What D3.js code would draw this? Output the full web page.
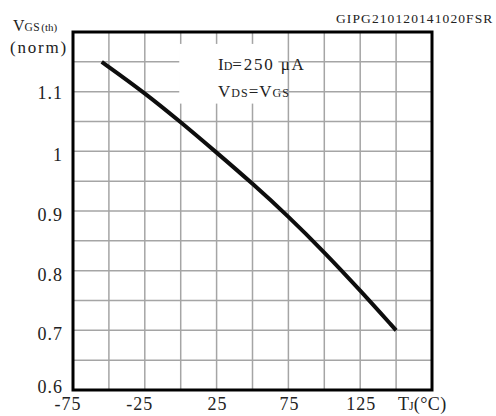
<!DOCTYPE html>
<html>
<head>
<meta charset="utf-8">
<script src="https://cdn.jsdelivr.net/npm/d3@7"></script>
<style>
  body { margin: 0; background: #fff; }
  svg text { font-family: "Liberation Serif", "Times New Roman", serif; fill: #222; }
</style>
</head>
<body>
<svg id="chart" width="496" height="416"></svg>
<script>
// data (Tj in °C, normalised Vgs(th))
const tempC = [-55, -25, 0, 25, 50, 75, 100, 125, 150];
const vgsNorm = [1.15, 1.098, 1.049, 0.998, 0.946, 0.891, 0.831, 0.767, 0.70];

const xTicks = [-75, -25, 25, 75, 125];
const yTicks = [0.6, 0.7, 0.8, 0.9, 1.0, 1.1];
const xGrid = d3.range(-50, 175, 25);
const yGrid = d3.range(0.65, 1.199, 0.05);

const svg = d3.select('#chart');
const margin = { top: 32, right: 64, bottom: 26, left: 73 };
const width = 496, height = 416;

const x = d3.scaleLinear().domain([-75, 175]).range([margin.left, width - margin.right]);
const y = d3.scaleLinear().domain([0.6, 1.2]).range([height - margin.bottom, margin.top]);

// grid
svg.append('g')
  .selectAll('line')
  .data(xGrid)
  .enter()
  .append('line')
  .attr('x1', d => x(d)).attr('x2', d => x(d))
  .attr('y1', y(0.6)).attr('y2', y(1.2))
  .attr('stroke', '#a5a5a5')
  .attr('stroke-width', 1.5);

svg.append('g')
  .selectAll('line')
  .data(yGrid)
  .enter()
  .append('line')
  .attr('x1', x(-75)).attr('x2', x(175))
  .attr('y1', d => y(d)).attr('y2', d => y(d))
  .attr('stroke', '#a5a5a5')
  .attr('stroke-width', 1.5);

// white box behind the conditions text
svg.append('rect')
  .attr('x', x(-1)).attr('y', y(1.18))
  .attr('width', x(68) - x(-1))
  .attr('height', y(1.08) - y(1.18))
  .attr('fill', '#fff');

// frame
svg.append('rect')
  .attr('x', x(-75)).attr('y', y(1.2))
  .attr('width', x(175) - x(-75))
  .attr('height', y(0.6) - y(1.2))
  .attr('fill', 'none')
  .attr('stroke', '#000')
  .attr('stroke-width', 3);

// curve
const points = tempC.map((t, i) => [t, vgsNorm[i]]);
const line = d3.line()
  .x(d => x(d[0]))
  .y(d => y(d[1]))
  .curve(d3.curveBasis);

svg.append('path')
  .datum(points)
  .attr('fill', 'none')
  .attr('stroke', '#0d0d0d')
  .attr('stroke-width', 4)
  .attr('d', line);

// y tick labels
svg.append('g')
  .selectAll('text')
  .data(yTicks)
  .enter()
  .append('text')
  .attr('x', 63)
  .attr('y', d => y(d) + (d === 0.6 ? 3 : d > 1.05 ? 7 : 10))
  .attr('text-anchor', 'end')
  .attr('font-size', 18)
  .attr('letter-spacing', 1)
  .text(d => d === 1 ? '1' : d3.format('.1f')(d));

// x tick labels
svg.append('g')
  .selectAll('text')
  .data(xTicks)
  .enter()
  .append('text')
  .attr('x', d => x(d) + (d < 0 ? -5 : 1))
  .attr('y', 410)
  .attr('text-anchor', 'middle')
  .attr('font-size', 18)
  .attr('letter-spacing', 1)
  .text(d => d);

// axis titles
const xt = svg.append('text').attr('x', 398).attr('y', 410).attr('font-size', 18);
xt.append('tspan').text('T');
xt.append('tspan').attr('font-size', 12).text('J');
xt.append('tspan').attr('letter-spacing', 0.5).text('(°C)');

const yt = svg.append('text').attr('x', 13).attr('y', 31).attr('font-size', 16);
yt.append('tspan').text('V');
yt.append('tspan').attr('font-size', 11.5).attr('letter-spacing', 0.5).text('GS');
yt.append('tspan').attr('font-size', 11).attr('dx', 1).text('(th)');

svg.append('text')
  .attr('x', 10).attr('y', 53)
  .attr('font-size', 17)
  .attr('letter-spacing', 1.8)
  .text('(norm)');

// figure code
svg.append('text')
  .attr('x', 336).attr('y', 23)
  .attr('font-size', 13.5)
  .attr('letter-spacing', 1.1)
  .text('GIPG210120141020FSR');

// test conditions
const c1 = svg.append('text').attr('x', 218).attr('y', 70).attr('font-size', 17);
c1.append('tspan').text('I');
c1.append('tspan').attr('font-size', 12).text('D');
c1.append('tspan').attr('letter-spacing', 1.8).text('=250 μA');

const c2 = svg.append('text').attr('x', 218).attr('y', 97)
  .attr('font-size', 17).attr('letter-spacing', 1);
c2.append('tspan').text('V');
c2.append('tspan').attr('font-size', 12).text('DS');
c2.append('tspan').text('=V');
c2.append('tspan').attr('font-size', 12).text('GS');
</script>
</body>
</html>
